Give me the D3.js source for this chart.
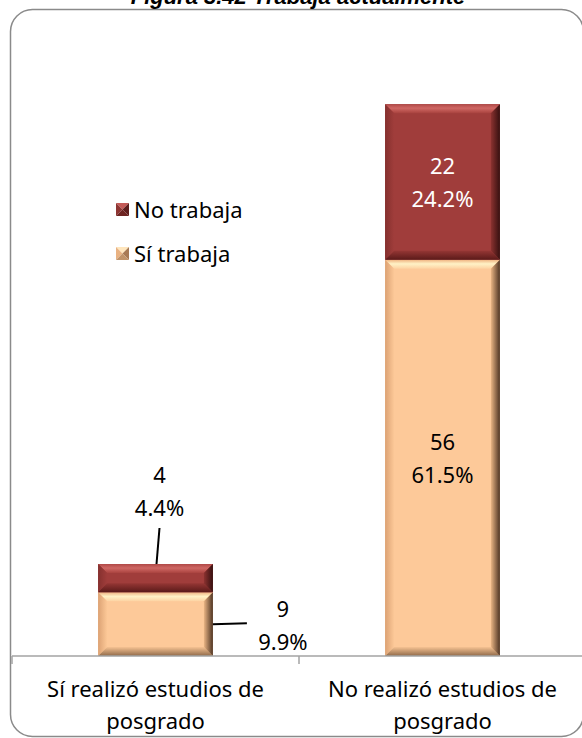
<!DOCTYPE html>
<head>
  <meta charset="utf-8">
  <script src="https://d3js.org/d3.v7.min.js"></script>
  <style>
    body { margin:0; background:#fff; }
    text { font-family: "Noto Sans", sans-serif; }
  </style>
</head>
<body>
  <div id="chart"></div>
  <script>
    // data
    const categories = ["Sí realizó estudios de posgrado", "No realizó estudios de posgrado"];
    const siTrabaja = [9, 56];
    const noTrabaja = [4, 22];
    const siPct = ["9.9%", "61.5%"];
    const noPct = ["4.4%", "24.2%"];
    const seriesNames = ["No trabaja", "Sí trabaja"];
    const title = "Figura 3.42 Trabaja actualmente";

    const width = 582, height = 738;
    const plot = { left: 12, right: 586, top: 90, bottom: 656 };

    const svg = d3.select('#chart').append('svg')
      .attr('width', width)
      .attr('height', height);

    const defs = svg.append('defs');
    function grad(id, x2, y2, stops) {
      const g = defs.append('linearGradient').attr('id', id)
        .attr('x1', 0).attr('y1', 0).attr('x2', x2).attr('y2', y2);
      stops.forEach(s => g.append('stop').attr('offset', s[0]).attr('stop-color', s[1]));
    }

    const palettes = {
      si: { face: '#fdc999', key: 'si' },
      no: { face: '#a03d3b', key: 'no' }
    };
    // bevel gradients
    grad('si-top', 0, 1, [[0, '#f0b482'], [0.45, '#fff2c6'], [1, '#fdd2a2']]);
    grad('si-left', 1, 0, [[0, '#dca274'], [1, '#fcc897']]);
    grad('si-right', 1, 0, [[0, '#eab584'], [1, '#4e3423']]);
    grad('si-bottom', 0, 1, [[0, '#f6c292'], [1, '#8f6a4a']]);
    grad('no-top', 0, 1, [[0, '#b04947'], [0.45, '#cf6764'], [1, '#a9433f']]);
    grad('no-left', 1, 0, [[0, '#85302e'], [1, '#a03d3b']]);
    grad('no-right', 1, 0, [[0, '#8c3230'], [1, '#361010']]);
    grad('no-bottom', 0, 1, [[0, '#943634'], [1, '#5a1a19']]);

    // frame
    svg.append('rect')
      .attr('x', 10.5).attr('y', 9.5)
      .attr('width', 573).attr('height', 727)
      .attr('rx', 22).attr('ry', 22)
      .style('fill', '#fff')
      .style('stroke', '#8a8a8a')
      .style('stroke-width', 1.5);

    // title (cut off at the top, as in the reference)
    svg.append('text')
      .attr('x', 298).attr('y', 4)
      .attr('text-anchor', 'middle')
      .style('font-family', '"Liberation Sans", Arial, sans-serif')
      .style('font-weight', 'bold')
      .style('font-style', 'italic')
      .style('font-size', '22px')
      .text(title);

    const x = d3.scaleBand()
      .domain(categories)
      .range([plot.left, plot.right])
      .padding(0);

    const y = d3.scaleLinear()
      .domain([0, 80])
      .range([plot.bottom, plot.top]);

    const barW = x.bandwidth() * 0.4;
    const barX = c => x(c) + (x.bandwidth() - barW) / 2;

    const table = categories.map((c, i) => ({ cat: c, si: siTrabaja[i], no: noTrabaja[i] }));
    const stack = d3.stack().keys(['si', 'no'])(table);

    function bevel(g, x0, y0, w, h, key) {
      const b = Math.min(9, h / 2.6);
      const x1 = x0 + w, y1 = y0 + h;
      const pts = p => p.map(d => d.join(',')).join(' ');
      g.append('rect').attr('x', x0).attr('y', y0).attr('width', w).attr('height', h)
        .style('fill', palettes[key].face);
      g.append('polygon').attr('points', pts([[x0, y0], [x1, y0], [x1 - b, y0 + b], [x0 + b, y0 + b]]))
        .style('fill', `url(#${key}-top)`);
      g.append('polygon').attr('points', pts([[x0, y0], [x0 + b, y0 + b], [x0 + b, y1 - b], [x0, y1]]))
        .style('fill', `url(#${key}-left)`);
      g.append('polygon').attr('points', pts([[x0, y1], [x0 + b, y1 - b], [x1 - b, y1 - b], [x1, y1]]))
        .style('fill', `url(#${key}-bottom)`);
      g.append('polygon').attr('points', pts([[x1, y0], [x1, y1], [x1 - b, y1 - b], [x1 - b, y0 + b]]))
        .style('fill', `url(#${key}-right)`);
    }

    const bars = svg.append('g');
    stack.forEach(layer => {
      layer.forEach(d => {
        const g = bars.append('g');
        bevel(g, barX(d.data.cat), y(d[1]), barW, y(d[0]) - y(d[1]), layer.key);
      });
    });

    // x axis: line plus boundary ticks
    const axis = svg.append('g').style('stroke', '#a3a3a3').style('stroke-width', 1.5);
    axis.append('line')
      .attr('x1', plot.left).attr('x2', plot.right)
      .attr('y1', y(0)).attr('y2', y(0));
    categories.concat([null]).forEach(c => {
      const tx = c === null ? plot.right : x(c);
      axis.append('line')
        .attr('x1', tx).attr('x2', tx)
        .attr('y1', y(0)).attr('y2', y(0) + 8);
    });

    // category labels, last word on second line
    categories.forEach(c => {
      const words = c.split(' ');
      const lines = [words.slice(0, -1).join(' '), words[words.length - 1]];
      const t = svg.append('text')
        .attr('x', x(c) + x.bandwidth() / 2)
        .attr('y', 697)
        .attr('text-anchor', 'middle')
        .style('font-size', '22px')
        .style('fill', '#000');
      lines.forEach((l, i) => t.append('tspan')
        .attr('x', x(c) + x.bandwidth() / 2)
        .attr('dy', i ? 32 : 0)
        .text(l));
    });

    // data labels
    const lh = 33;
    function label(cx, baseY, lines, color) {
      const t = svg.append('text')
        .attr('text-anchor', 'middle')
        .style('font-size', '22px')
        .style('fill', color);
      lines.forEach((l, i) => t.append('tspan')
        .attr('x', cx).attr('y', baseY + i * lh).text(l));
    }
    function leader(x1, y1, x2, y2) {
      svg.append('line')
        .attr('x1', x1).attr('y1', y1).attr('x2', x2).attr('y2', y2)
        .style('stroke', '#000').style('stroke-width', 2);
    }

    // first bar: small segments get callouts outside
    const c0 = categories[0];
    const cx0 = barX(c0) + barW / 2;
    const topNo0 = y(siTrabaja[0] + noTrabaja[0]);
    leader(cx0 + 1, topNo0, cx0 + 4, topNo0 - 36);
    label(cx0 + 4, topNo0 - 81, [String(noTrabaja[0]), noPct[0]], '#000');
    const midSi0 = (y(0) + y(siTrabaja[0])) / 2;
    leader(barX(c0) + barW, midSi0, barX(c0) + barW + 34, midSi0 - 1);
    label(barX(c0) + barW + 70, midSi0 - 7, [String(siTrabaja[0]), siPct[0]], '#000');

    // second bar: centered inside
    const c1 = categories[1];
    const cx1 = barX(c1) + barW / 2;
    const midSi1 = (y(0) + y(siTrabaja[1])) / 2;
    const midNo1 = (y(siTrabaja[1]) + y(siTrabaja[1] + noTrabaja[1])) / 2;
    label(cx1, midSi1 - 8, [String(siTrabaja[1]), siPct[1]], '#000');
    label(cx1, midNo1 - 8, [String(noTrabaja[1]), noPct[1]], '#fff');

    // legend
    const legend = svg.append('g');
    const legendKeys = ['no', 'si'];
    const markerCols = {
      no: ['#c45a57', '#8e3533', '#5e1d1c', '#6e2422'],
      si: ['#ffe6bd', '#e9b282', '#a87a55', '#c1946a']
    };
    seriesNames.forEach((name, i) => {
      const by = 218 + i * 44;
      const mx = 116, my = by - 15, s = 13;
      const cols = markerCols[legendKeys[i]];
      const cxm = mx + s / 2, cym = my + s / 2;
      const tri = (a, b, col) => legend.append('polygon')
        .attr('points', [a, b, [cxm, cym]].map(p => p.join(',')).join(' '))
        .style('fill', col);
      tri([mx, my], [mx + s, my], cols[0]);
      tri([mx, my], [mx, my + s], cols[1]);
      tri([mx + s, my], [mx + s, my + s], cols[2]);
      tri([mx, my + s], [mx + s, my + s], cols[3]);
      legend.append('text')
        .attr('x', 134).attr('y', by)
        .style('font-size', '22px')
        .style('fill', '#000')
        .text(name);
    });
  </script>
</body>
</html>
